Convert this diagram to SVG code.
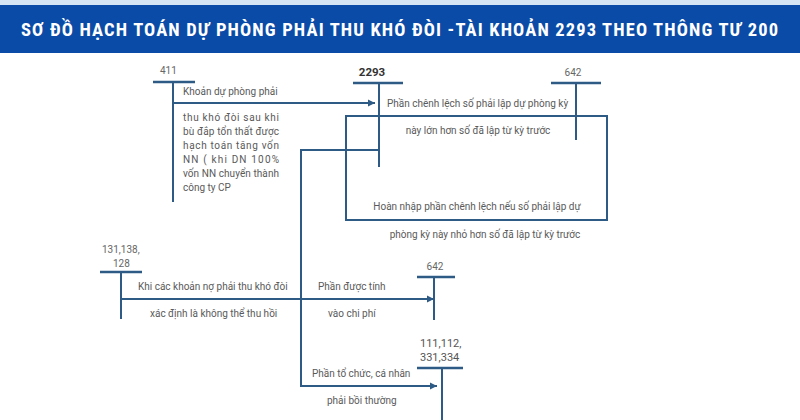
<svg xmlns="http://www.w3.org/2000/svg" width="800" height="420" viewBox="0 0 800 420">
<style>
.t{font-family:Roboto,"Liberation Sans",sans-serif;font-size:10px;fill:#5a5a5a}
.lbl{font-family:Roboto,"Liberation Sans",sans-serif;font-size:10px;fill:#666}
.big{font-family:Roboto,"Liberation Sans",sans-serif;font-size:11px;fill:#555}
.bold{font-family:Roboto,"Liberation Sans",sans-serif;font-size:11.5px;font-weight:bold;fill:#333}
.ln{stroke:#2d5b86;stroke-width:2;fill:none}
.bar{stroke:#2d5b86;stroke-width:2.5;fill:none}
.title{font-family:"Liberation Sans Narrow","Roboto Condensed","DejaVu Sans Condensed",sans-serif;font-weight:bold;font-size:18.5px;fill:#fff}
</style>
<defs>
<marker id="ah" markerWidth="8" markerHeight="8" refX="7" refY="4" orient="auto" markerUnits="userSpaceOnUse">
<path d="M0,0.5 L7,4 L0,7.5 Z" fill="#2d5b86"/>
</marker>
</defs>
<rect x="0" y="0" width="800" height="420" fill="#fff"/>
<rect x="0" y="0" width="800" height="5" fill="#d5e5f4"/>
<rect x="0" y="5" width="800" height="48" fill="#0a4ba8"/>
<text class="title" x="21" y="36" textLength="757" lengthAdjust="spacing">SƠ ĐỒ HẠCH TOÁN DỰ PHÒNG PHẢI THU KHÓ ĐÒI -TÀI KHOẢN 2293 THEO THÔNG TƯ 200</text>

<g id="acc411">
<text class="lbl" x="160" y="73.5">411</text>
<path class="bar" d="M153,82 H195"/>
<path class="ln" d="M173,82 V202"/>
</g>
<g id="acc2293">
<text class="bold" x="372" y="76" text-anchor="middle">2293</text>
<path class="bar" d="M353,83 H403"/>
<path class="ln" d="M379,83 V167"/>
</g>
<g id="acc642a">
<text class="lbl" x="573" y="76" text-anchor="middle">642</text>
<path class="bar" d="M551,83 H601"/>
<path class="ln" d="M576,83 V140"/>
</g>
<g id="acc131">
<text class="lbl" x="102" y="252.5">131,138,</text>
<text class="lbl" x="113" y="266.5">128</text>
<path class="bar" d="M100,272 H142"/>
<path class="ln" d="M121,272 V319"/>
</g>
<g id="acc642b">
<text class="lbl" x="435" y="270" text-anchor="middle">642</text>
<path class="bar" d="M417,277 H455"/>
<path class="ln" d="M434,277 V320"/>
</g>
<g id="acc111">
<text class="big" x="420" y="347">111,112,</text>
<text class="big" x="420" y="361">331,334</text>
<path class="bar" d="M417,368 H463"/>
<path class="ln" d="M442,368 V420"/>
</g>

<g id="connectors">
<path class="ln" d="M173,103 H375" marker-end="url(#ah)"/>
<path class="ln" d="M346,116 H607 V220 H346 Z"/>
<path class="ln" d="M379,150 H301 V386 H437" marker-end="url(#ah)"/>
<path class="ln" d="M121,299 H434" marker-end="url(#ah)"/>
</g>

<g id="labels">
<text class="t" x="183" y="94.5">Khoản dự phòng phải</text>
<text class="t" x="183" y="120.5" textLength="96" lengthAdjust="spacing">thu khó đòi sau khi</text>
<text class="t" x="183" y="134.5" textLength="96" lengthAdjust="spacing">bù đắp tổn thất được</text>
<text class="t" x="183" y="148.5" textLength="96" lengthAdjust="spacing">hạch toán tăng vốn</text>
<text class="t" x="183" y="162.5" textLength="96" lengthAdjust="spacing">NN ( khi DN 100%</text>
<text class="t" x="183" y="176.5" textLength="96" lengthAdjust="spacing">vốn NN chuyển thành</text>
<text class="t" x="183" y="190.5">công ty CP</text>
<text class="t" x="387" y="106.5">Phần chênh lệch số phải lập dự phòng kỳ</text>
<text class="t" x="478" y="133.5" text-anchor="middle">này lớn hơn số đã lập từ kỳ trước</text>
<text class="t" x="477" y="209.5" text-anchor="middle">Hoàn nhập phần chênh lệch nếu số phải lập dự</text>
<text class="t" x="485" y="237.5" text-anchor="middle">phòng kỳ này nhỏ hơn số đã lập từ kỳ trước</text>
<text class="t" x="138" y="290">Khi các khoản nợ phải thu khó đòi</text>
<text class="t" x="150" y="316.5">xác định là không thể thu hồi</text>
<text class="t" x="318" y="290">Phần được tính</text>
<text class="t" x="328" y="316.5">vào chi phí</text>
<text class="t" x="312" y="376.5">Phần tổ chức, cá nhân</text>
<text class="t" x="327" y="403.5">phải bồi thường</text>
</g>
</svg>
